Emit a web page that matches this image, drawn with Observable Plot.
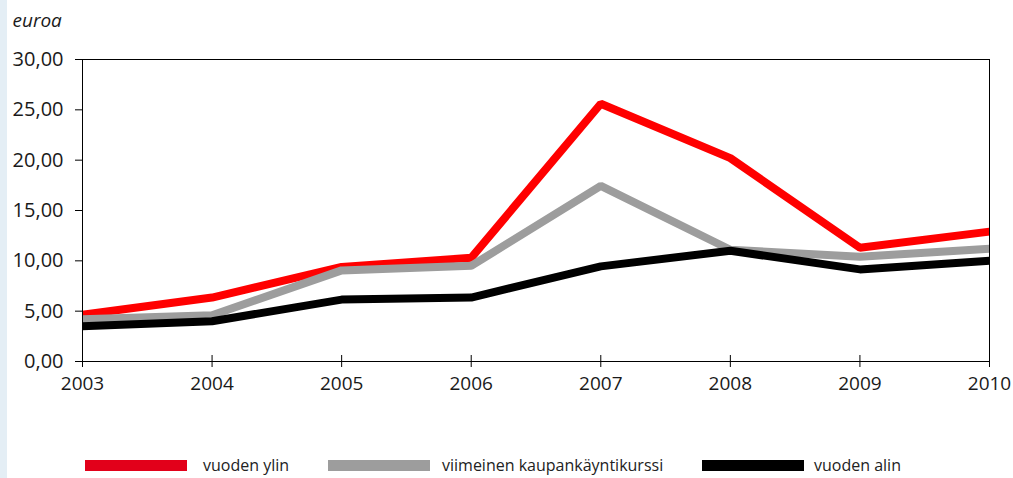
<!DOCTYPE html>
<html>
<head>
<meta charset="utf-8">
<script src="https://cdn.jsdelivr.net/npm/d3@7"></script>
<script src="https://cdn.jsdelivr.net/npm/@observablehq/plot@0.6"></script>
<style>
  html, body { margin: 0; padding: 0; }
  body {
    width: 1013px; height: 478px; overflow: hidden; position: relative;
    background: linear-gradient(to right, #e4eef5 7px, #ffffff 7px);
    font-family: "Open Sans", "Noto Sans", sans-serif;
  }
  #chart { position: absolute; left: 0; top: 0; }
  .legend { position: absolute; top: 453px; left: 0; width: 1013px; height: 24px; font-size: 16px; color: #222; }
  .item { position: absolute; top: 0; display: flex; align-items: center; height: 24px; }
  .sw { width: 102px; height: 11px; margin-right: 15px; }
</style>
</head>
<body>
<div id="chart"></div>
<div class="legend" id="legend"></div>
<script>
const years = [2003, 2004, 2005, 2006, 2007, 2008, 2009, 2010];
const vuodenYlin = [4.65, 6.35, 9.4, 10.3, 25.6, 20.2, 11.3, 12.9];
const viimeinenKurssi = [4.2, 4.6, 9.05, 9.5, 17.45, 11.1, 10.4, 11.2];
const vuodenAlin = [3.5, 4.0, 6.15, 6.35, 9.45, 11.0, 9.15, 10.0];
const seriesNames = ["vuoden ylin", "viimeinen kaupankäyntikurssi", "vuoden alin"];
const lineColors = ["#ff0000", "#9d9d9d", "#000000"];
const legendColors = ["#e2001a", "#9d9d9d", "#000000"];
const yTicks = [0, 5, 10, 15, 20, 25, 30];
const yLabel = "euroa";

const seriesValues = [vuodenYlin, viimeinenKurssi, vuodenAlin];
const data = [];
seriesNames.forEach((name, si) => {
  years.forEach((yr, i) => data.push({ series: name, year: yr, value: seriesValues[si][i] }));
});

const fmt = d => d.toFixed(2).replace(".", ",");

const chart = Plot.plot({
  width: 1013,
  height: 430,
  marginLeft: 82,
  marginRight: 24,
  marginTop: 59,
  marginBottom: 69,
  style: { fontFamily: "'Open Sans', 'Noto Sans', sans-serif", fontSize: "19px", color: "#1a1a1a", background: "transparent" },
  x: { type: "linear", domain: [2003, 2010], axis: null },
  y: { type: "linear", domain: [0, 30], axis: null },
  color: { domain: seriesNames, range: lineColors },
  marks: [
    Plot.line(data, { x: "year", y: "value", z: "series", stroke: "series", strokeWidth: 8, strokeLinejoin: "miter", strokeLinecap: "butt" }),
    Plot.frame({ stroke: "#000", strokeWidth: 1 }),
    Plot.ruleY(yTicks, { y: d => d, x1: 2003, x2: 2003, insetLeft: -7, stroke: "#000" }),
    Plot.text(yTicks, { y: d => d, text: fmt, frameAnchor: "left", dx: -19, textAnchor: "end", fontSize: 20, fill: "#1a1a1a" }),
    Plot.ruleX(years, { x: d => d, y1: 0, y2: 0, insetTop: -6, insetBottom: -6, stroke: "#000" }),
    Plot.text(years, { x: d => d, text: d => String(d), frameAnchor: "bottom", dy: 28, fontSize: 19, fill: "#1a1a1a" }),
    Plot.text([yLabel], { frameAnchor: "top-left", text: d => d, dx: -70, dy: -46, textAnchor: "start", fontStyle: "italic", fontSize: 19, fill: "#1a1a1a" })
  ]
});
document.getElementById("chart").appendChild(chart);

const legendPos = [[85, 203], [328, 442], [702, 814]];
const legend = document.getElementById("legend");
seriesNames.forEach((name, i) => {
  const item = document.createElement("div");
  item.className = "item";
  item.style.left = legendPos[i][0] + "px";
  const sw = document.createElement("div");
  sw.className = "sw";
  sw.style.background = legendColors[i];
  sw.style.marginRight = (legendPos[i][1] - legendPos[i][0] - 102) + "px";
  const label = document.createElement("span");
  label.textContent = name;
  item.appendChild(sw);
  item.appendChild(label);
  legend.appendChild(item);
});
</script>
</body>
</html>
